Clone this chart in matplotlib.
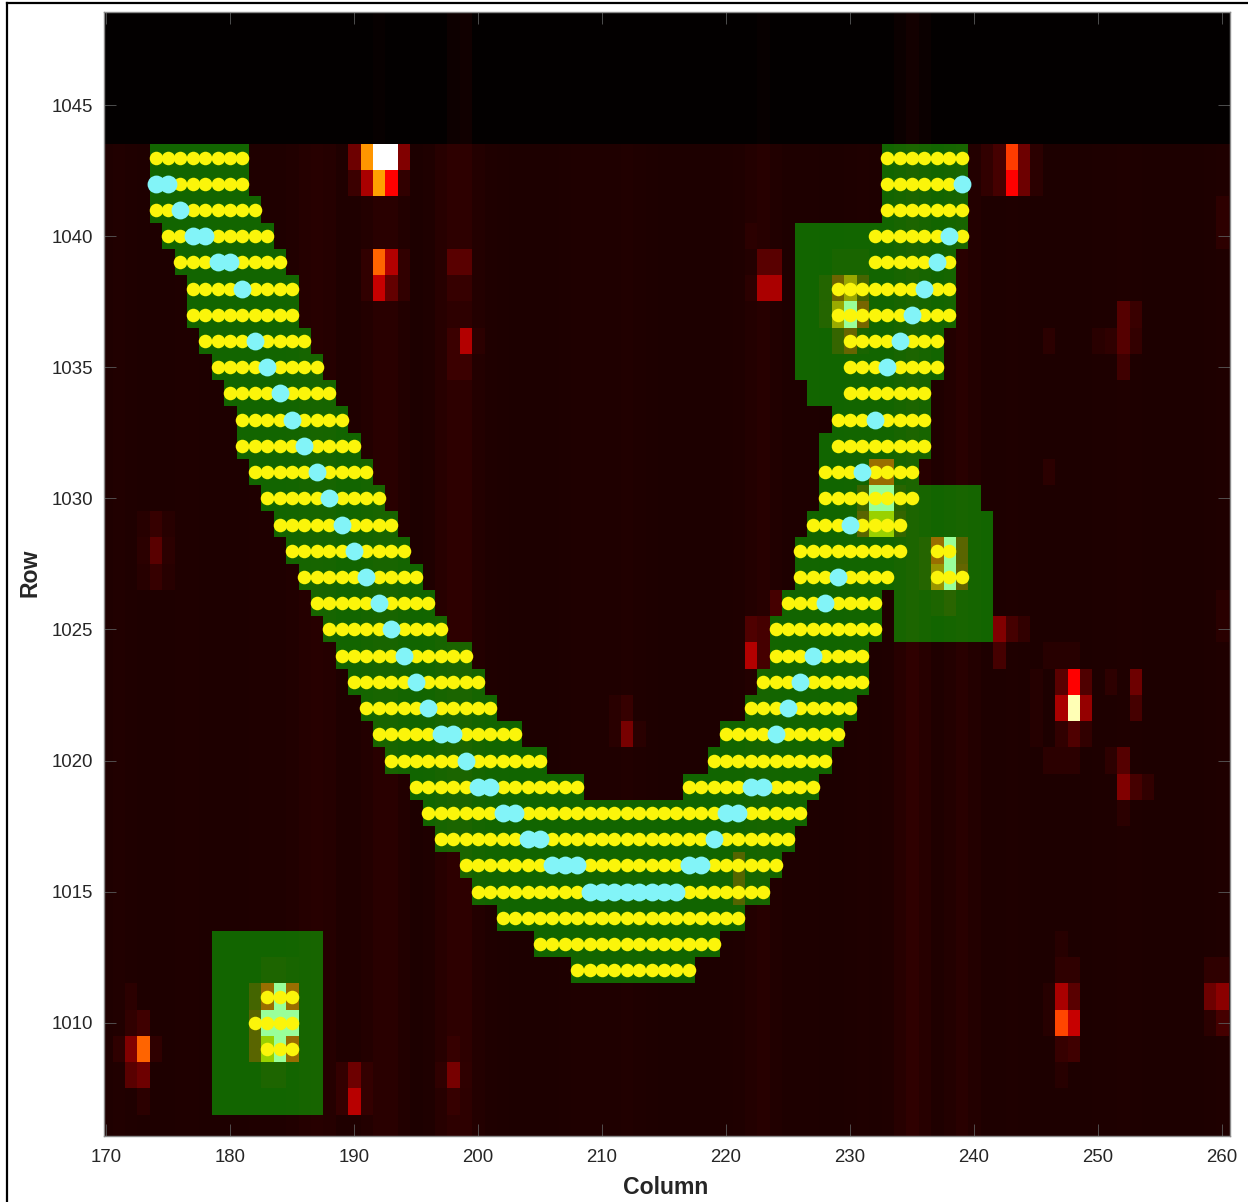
import numpy as np
import matplotlib
matplotlib.use("Agg")
import matplotlib.pyplot as plt
from matplotlib.colors import LinearSegmentedColormap
from matplotlib.lines import Line2D

plt.rcParams['font.family'] = ['Liberation Sans', 'DejaVu Sans']

# ---- data ----
columns = np.arange(169, 262)
rows = np.arange(1005, 1050)

# dark column background (signal level, 255 = pure red, 510 = yellow, 680 = white)
col_level = {170: 33, 171: 34, 172: 33, 173: 31, 174: 31, 175: 31, 176: 33, 177: 33, 178: 31, 179: 31,
             180: 31, 181: 31, 182: 33, 183: 33, 184: 33, 185: 34, 186: 38, 187: 41, 188: 38, 189: 33,
             190: 33, 191: 36, 192: 42, 193: 42, 194: 35, 195: 30, 196: 33, 197: 40, 198: 46, 199: 46,
             200: 36, 201: 33, 202: 31, 203: 30, 204: 30, 205: 30, 206: 30, 207: 31, 208: 33, 209: 33,
             210: 33, 211: 33, 212: 34, 213: 33, 214: 31, 215: 30, 216: 30, 217: 30, 218: 30, 219: 30,
             220: 31, 221: 33, 222: 36, 223: 40, 224: 34, 225: 31, 226: 31, 227: 31, 228: 30, 229: 30,
             230: 31, 231: 33, 232: 31, 233: 33, 234: 40, 235: 48, 236: 40, 237: 33, 238: 36, 239: 42,
             240: 36, 241: 31, 242: 31, 243: 33, 244: 31, 245: 30, 246: 30, 247: 30, 248: 30, 249: 30,
             250: 31, 251: 31, 252: 33, 253: 31, 254: 30, 255: 30, 256: 30, 257: 30, 258: 30, 259: 31, 260: 33}
top_row_level = 5
top_col_level = {199: 18, 198: 14, 235: 20, 236: 12, 234: 12, 223: 8, 192: 8}

# bright pixels: row, column, signal level
spot_rows = [1043, 1043, 1043, 1043, 1043, 1042, 1042, 1042, 1042, 1042,
             1039, 1039, 1039, 1039, 1038, 1038, 1038, 1038,
             1039, 1039, 1038, 1038, 1036, 1036, 1036, 1035, 1035,
             1043, 1043, 1043, 1043, 1043, 1042, 1042, 1042, 1042, 1042,
             1040, 1039, 1039, 1038, 1038, 1038,
             1039, 1039, 1039, 1038, 1038, 1038, 1038, 1037, 1037, 1037, 1037, 1036, 1036, 1036,
             1031, 1031, 1030, 1030, 1030, 1030, 1029, 1029, 1029, 1029,
             1028, 1028, 1028, 1028, 1027, 1027, 1027, 1027, 1026, 1026,
             1011, 1011, 1011, 1011, 1010, 1010, 1010, 1010, 1009, 1009, 1009, 1009,
             1012, 1012, 1012, 1008, 1008,
             1009, 1009, 1009, 1009, 1008, 1008, 1010, 1010, 1011, 1007,
             1008, 1007, 1008, 1007, 1008, 1007,
             1008, 1008, 1008, 1009, 1007,
             1029, 1029, 1029, 1028, 1028, 1028, 1027, 1027, 1027,
             1025, 1025, 1024, 1024, 1026,
             1025, 1025, 1025, 1024,
             1024, 1024, 1024, 1023, 1023, 1023, 1022, 1022, 1022, 1021, 1021, 1021, 1020, 1020, 1020,
             1023, 1022, 1021,
             1023, 1022, 1023, 1019, 1019, 1019, 1020, 1020, 1018,
             1011, 1011, 1010, 1010, 1012, 1012,
             1011, 1011, 1010, 1010, 1009, 1009, 1012, 1012, 1013, 1008, 1010, 1011,
             1021, 1022, 1021, 1021, 1022,
             1016, 1015,
             1031, 1036, 1037, 1036, 1035, 1037, 1036, 1036, 1036,
             1041, 1040, 1026, 1025]
spot_cols = [190, 191, 192, 193, 194, 190, 191, 192, 193, 194,
             191, 192, 193, 194, 191, 192, 193, 194,
             198, 199, 198, 199, 198, 199, 200, 198, 199,
             241, 242, 243, 244, 245, 241, 242, 243, 244, 245,
             222, 223, 224, 223, 224, 222,
             229, 230, 231, 228, 229, 230, 231, 228, 229, 230, 231, 229, 230, 231,
             232, 233, 231, 232, 233, 234, 231, 232, 233, 234,
             236, 237, 238, 239, 236, 237, 238, 239, 237, 238,
             182, 183, 184, 185, 182, 183, 184, 185, 182, 183, 184, 185,
             183, 184, 185, 183, 184,
             171, 172, 173, 174, 172, 173, 172, 173, 172, 173,
             190, 190, 189, 189, 191, 191,
             198, 197, 199, 198, 198,
             173, 174, 175, 173, 174, 175, 173, 174, 175,
             222, 223, 222, 223, 224,
             242, 243, 244, 242,
             246, 247, 248, 247, 248, 249, 247, 248, 249, 247, 248, 249, 246, 247, 248,
             245, 245, 245,
             251, 253, 253, 252, 253, 254, 252, 251, 252,
             259, 260, 259, 260, 259, 260,
             247, 248, 247, 248, 247, 248, 247, 248, 247, 247, 246, 246,
             212, 212, 211, 213, 211,
             221, 221,
             246, 246, 252, 252, 252, 253, 253, 251, 250,
             260, 260, 260, 260]
spot_vals = [110, 405, 680, 680, 130, 60, 170, 415, 255, 50,
             50, 355, 180, 50, 50, 200, 100, 50,
             90, 90, 55, 55, 60, 180, 45, 60, 60,
             50, 70, 315, 110, 45, 50, 70, 255, 110, 45,
             44, 90, 90, 170, 170, 45,
             44, 44, 44, 60, 183, 365, 117, 62, 370, 680, 200, 90, 170, 44,
             270, 270, 100, 680, 680, 70, 150, 435, 435, 85,
             65, 270, 680, 150, 65, 335, 680, 165, 50, 70,
             115, 270, 680, 270, 150, 680, 680, 680, 150, 435, 680, 270,
             50, 50, 42, 50, 50,
             48, 130, 355, 48, 90, 110, 50, 65, 44, 44,
             110, 185, 52, 52, 52, 52,
             120, 48, 48, 55, 55,
             40, 55, 40, 45, 90, 45, 40, 55, 40,
             80, 70, 180, 70, 70,
             130, 70, 50, 70,
             40, 40, 40, 90, 255, 80, 170, 630, 150, 50, 80, 50, 44, 44, 44,
             38, 38, 38,
             46, 70, 110, 130, 70, 50, 85, 46, 44,
             110, 140, 45, 70, 48, 48,
             170, 90, 325, 200, 55, 65, 48, 48, 40, 40, 40, 40,
             120, 55, 42, 42, 42,
             140, 140,
             44, 44, 85, 85, 65, 58, 52, 48, 42,
             46, 46, 42, 42]

# track footprint: rows and column extents (first/last) of the yellow pixels
track_rows = list(range(1043, 1011, -1))
track_left_first = [174, 174, 174, 175, 176, 177, 177, 178, 179, 180, 181, 181, 182, 183, 184, 185,
                    186, 187, 188, 189, 190, 191, 192, 193, 195, 196, 197, 199, 200, 202, 205, 208]
track_left_last = [181, 181, 182, 183, 184, 185, 185, 186, 187, 188, 189, 190, 191, 192, 193, 194,
                   195, 196, 197, 199, 200, 201, 203, 205, 208, 226, 225, 224, 223, 221, 219, 217]
arm_rows = list(range(1043, 1018, -1))
arm_first = [233, 233, 233, 232, 232, 229, 229, 230, 230, 230, 229, 229, 228, 228, 227, 226, 226,
             225, 224, 224, 223, 222, 220, 219, 217]
arm_last = [239, 239, 239, 239, 238, 238, 238, 237, 237, 236, 236, 236, 235, 235, 234, 234, 233,
            232, 232, 231, 231, 230, 229, 228, 227]
# isolated yellow pixels (star-like sources)
star_rows = [1028, 1028, 1027, 1027, 1027, 1011, 1011, 1011, 1010, 1010, 1010, 1010, 1009, 1009, 1009]
star_cols = [237, 238, 237, 238, 239, 183, 184, 185, 182, 183, 184, 185, 183, 184, 185]

# aperture mask extras beyond the yellow pixels: row, first, last
extra_rows = [1040, 1039, 1038, 1037, 1036, 1035, 1034, 1032,
              1030, 1029, 1028, 1027, 1026, 1025,
              1029,
              1013, 1012, 1011, 1010, 1009, 1008, 1007]
extra_first = [226, 226, 226, 226, 226, 226, 227, 228,
               236, 235, 235, 234, 234, 234,
               227,
               179, 179, 179, 179, 179, 179, 179]
extra_last = [232, 232, 229, 229, 230, 230, 230, 228,
              240, 241, 241, 241, 241, 241,
              227,
              187, 187, 187, 187, 187, 187, 187]

# cyan pixels
cyan_rows = [1042, 1042, 1041, 1040, 1040, 1039, 1039, 1038, 1036, 1035, 1034, 1033, 1032, 1031, 1030,
             1029, 1028, 1027, 1026, 1025, 1024, 1023, 1022, 1021, 1021, 1020, 1019, 1019, 1018, 1018,
             1017, 1017, 1016, 1016, 1016, 1015, 1015, 1015, 1015, 1015, 1015, 1015, 1015,
             1042, 1040, 1039, 1038, 1037, 1036, 1035, 1033, 1031, 1029, 1027, 1026, 1024, 1023, 1022,
             1021, 1019, 1019, 1018, 1018, 1017, 1016, 1016]
cyan_cols = [174, 175, 176, 177, 178, 179, 180, 181, 182, 183, 184, 185, 186, 187, 188,
             189, 190, 191, 192, 193, 194, 195, 196, 197, 198, 199, 200, 201, 202, 203,
             204, 205, 206, 207, 208, 209, 210, 211, 212, 213, 214, 215, 216,
             239, 238, 237, 236, 235, 234, 233, 232, 231, 230, 229, 228, 227, 226, 225,
             224, 222, 223, 220, 221, 219, 217, 218]

x_ticks = list(range(170, 261, 10))
y_ticks = list(range(1010, 1046, 5))

# ---- build rasters ----
base = np.array([col_level.get(c, 31) for c in columns], dtype=float)
img = np.tile(base, (len(rows), 1))
for i, r in enumerate(rows):
    if r >= 1044:
        img[i, :] = [top_col_level.get(c, top_row_level) for c in columns]
for r, c, v in zip(spot_rows, spot_cols, spot_vals):
    img[r - rows[0], c - columns[0]] = v

mask = np.zeros(img.shape, dtype=bool)
yellow_r, yellow_c = [], []
for spans in [(track_rows, track_left_first, track_left_last), (arm_rows, arm_first, arm_last)]:
    for r, a, b in zip(*spans):
        mask[r - rows[0], a - columns[0]:b - columns[0] + 1] = True
        for c in range(a, b + 1):
            yellow_r.append(r)
            yellow_c.append(c)
for r, a, b in zip(extra_rows, extra_first, extra_last):
    mask[r - rows[0], a - columns[0]:b - columns[0] + 1] = True
yellow_r += star_rows
yellow_c += star_cols

overlay = np.zeros(img.shape + (4,))
overlay[..., 1] = 1.0
overlay[..., 3] = mask * 0.4

# ---- plot ----
W, H = 1248, 1202
fig = plt.figure(figsize=(W / 100, H / 100), dpi=100)
L, R, T, B = 103.5, 1229.5, 11.5, 1136.0
ax = fig.add_axes([L / W, 1 - B / H, (R - L) / W, (B - T) / H])

hot = LinearSegmentedColormap.from_list('hot_black', [(0, '#000000'), (0.375, '#ff0000'),
                                                      (0.75, '#ffff00'), (1, '#ffffff')], N=512)
extent = [columns[0] - .5, columns[-1] + .5, rows[0] - .5, rows[-1] + .5]
ax.imshow(img, cmap=hot, vmin=0, vmax=680, origin='lower', extent=extent, aspect='auto',
          interpolation='nearest', zorder=1)
ax.imshow(overlay, origin='lower', extent=extent, aspect='auto', interpolation='nearest', zorder=2)
ax.scatter(yellow_c, yellow_r, s=95, c='#fbf50a', linewidths=0, zorder=3)
ax.scatter(cyan_cols, cyan_rows, s=165, c='#82f4f8', linewidths=0, zorder=4)

ax.set_xlim(169.8, 260.6)
ax.set_ylim(1005.68, 1048.57)
ax.set_xticks(x_ticks)
ax.set_yticks(y_ticks)
ax.tick_params(axis='both', direction='in', length=8.5, width=0.6, color='#5a5a5a',
               top=True, right=True, labelsize=13.4, labelcolor='#262626')
ax.tick_params(axis='x', pad=9)
ax.tick_params(axis='y', pad=7.5)
ax.ticklabel_format(useOffset=False, style='plain')
for s in ax.spines.values():
    s.set_color('#8a8a8a')
    s.set_linewidth(1.0)

fig.text(666 / W, 1 - 1187 / H, 'Column', ha='center', va='center', fontsize=16.6,
         fontweight='bold', color='#262626')
fig.text(30 / W, 1 - 573 / H, 'Row', ha='center', va='center', rotation=90, fontsize=16.6,
         fontweight='bold', color='#262626')

fig.add_artist(Line2D([7 / W, 7 / W], [0, 1 - 2.5 / H], color='black', lw=1.6, transform=fig.transFigure))
fig.add_artist(Line2D([7 / W, 1], [1 - 2.5 / H, 1 - 2.5 / H], color='black', lw=1.6, transform=fig.transFigure))

fig.savefig('out.png', dpi=100)
